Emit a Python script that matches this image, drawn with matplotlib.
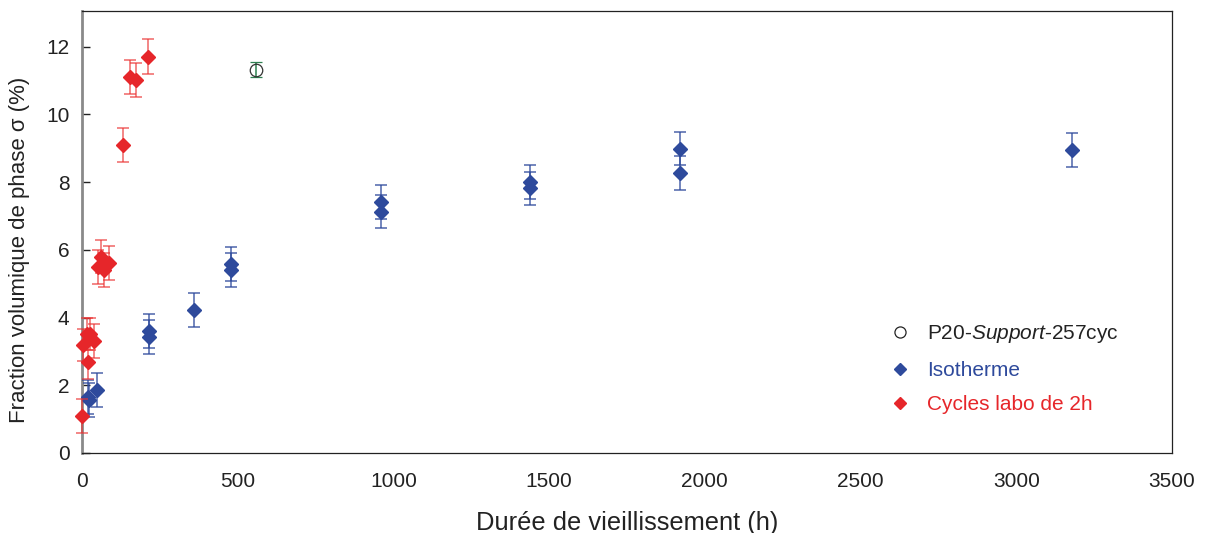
import matplotlib
matplotlib.use("Agg")
import matplotlib.pyplot as plt
from matplotlib.lines import Line2D

plt.rcParams['font.family'] = ['Liberation Sans', 'DejaVu Sans']
plt.rcParams['mathtext.fontset'] = 'custom'
plt.rcParams['mathtext.rm'] = 'Liberation Sans'
plt.rcParams['mathtext.it'] = 'Liberation Sans:italic'

# Data (hours, volume fraction %)
red_x = [0, 4, 15, 20, 26, 38, 50, 60, 71, 86, 133, 154, 173, 213]
red_y = [1.10, 3.19, 3.52, 2.68, 3.52, 3.30, 5.49, 5.80, 5.41, 5.61, 9.09, 11.10, 11.00, 11.70]
red_err = [0.5, 0.47, 0.47, 0.5, 0.47, 0.5, 0.5, 0.5, 0.5, 0.5, 0.51, 0.5, 0.5, 0.51]

blue_x = [20, 24, 48, 216, 216, 360, 480, 480, 960, 960, 1440, 1440, 1920, 1920, 3180]
blue_y = [1.65, 1.57, 1.85, 3.61, 3.42, 4.23, 5.57, 5.41, 7.40, 7.13, 8.01, 7.81, 8.99, 8.27, 8.94]
blue_err = [0.5] * len(blue_x)

green_x = [559]
green_y = [11.32]
green_err = [0.23]

x_ticks = [0, 500, 1000, 1500, 2000, 2500, 3000, 3500]
y_ticks = [0, 2, 4, 6, 8, 10, 12]

BLUE = '#2E4A9C'
RED = '#E6262A'
GREEN = '#2E8050'

fig = plt.figure(figsize=(12.08, 5.33), dpi=100)
ax = fig.add_axes([82/1208, 1-453/533, (1172-82)/1208, (453-11)/533])

ax.errorbar(blue_x, blue_y, yerr=blue_err, fmt='D', color=BLUE, ms=7.5, mec=BLUE,
            ecolor=(0.18, 0.29, 0.61, 0.85), elinewidth=1.1, capsize=4.5, capthick=1.1,
            zorder=3, clip_on=False)
ax.errorbar(red_x, red_y, yerr=red_err, fmt='D', color=RED, ms=7.5, mec=RED,
            ecolor=(0.92, 0.2, 0.2, 0.75), elinewidth=1.1, capsize=4.5, capthick=1.1,
            zorder=4, clip_on=False)
ax.errorbar(green_x, green_y, yerr=green_err, fmt='o', mfc='none', mec='#333333',
            ms=9, mew=0.9, ecolor=GREEN, elinewidth=1.1, capsize=4, capthick=1.1,
            zorder=4)

ax.set_xlim(0, 3500)
ax.set_ylim(0, 13.05)
ax.set_xticks(x_ticks)
ax.set_yticks(y_ticks)
ax.tick_params(axis='x', length=0, labelsize=15, pad=14, colors='#222222')
ax.tick_params(axis='y', direction='in', length=6, width=1, labelsize=15, pad=9,
               colors='#222222')

for s in ['top', 'right', 'bottom']:
    ax.spines[s].set_color('#222222')
    ax.spines[s].set_linewidth(0.9)
ax.spines['left'].set_color('#8a8a8a')
ax.spines['left'].set_linewidth(2)

ax.set_xlabel('Durée de vieillissement (h)', fontsize=18.4, color='#222222', labelpad=14)
ax.set_ylabel('Fraction volumique de phase σ (%)', fontsize=16, color='#222222')
ax.yaxis.set_label_coords(-0.0475, 0.46)

handles = [
    Line2D([], [], ls='none', marker='o', mfc='none', mec='#222222', ms=8, mew=0.9),
    Line2D([], [], ls='none', marker='D', color=BLUE, ms=6),
    Line2D([], [], ls='none', marker='D', color=RED, ms=6),
]
labels = ['P20-$\\mathit{Support}$-257cyc', 'Isotherme', 'Cycles labo de 2h']
leg = ax.legend(handles, labels, loc='upper left', bbox_to_anchor=(0.724, 0.336),
                frameon=False, fontsize=15, handlelength=1.0, handletextpad=0.8,
                labelspacing=0.75, labelcolor=['#222222', BLUE, RED])

fig.savefig('out.png', dpi=100)
